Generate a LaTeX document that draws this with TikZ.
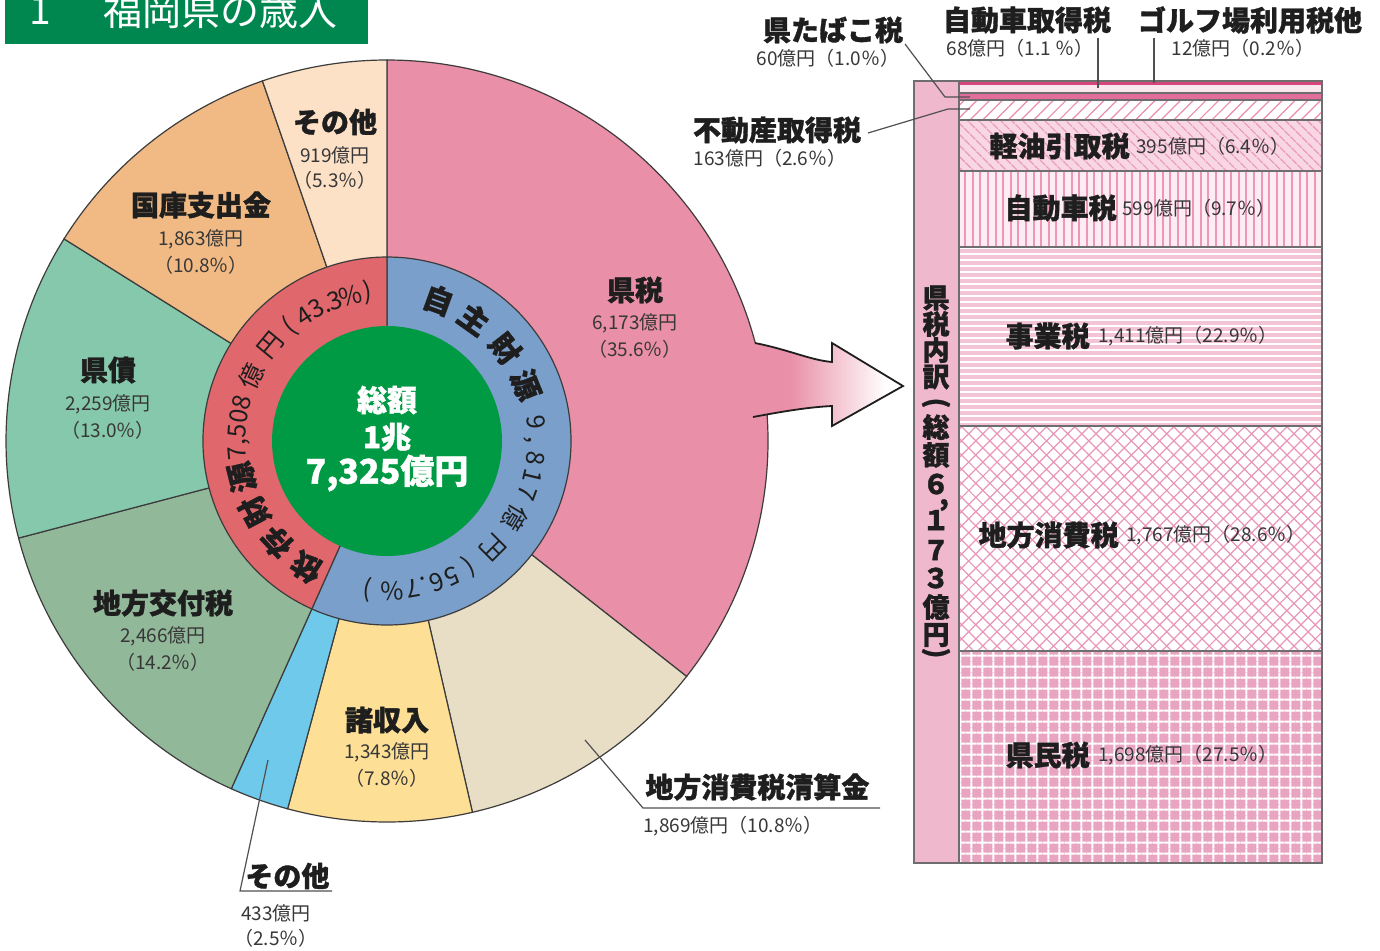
\documentclass[tikz,border=0pt]{standalone}
\usepackage{fontspec}
\setmainfont{Noto Sans CJK JP}[BoldFeatures={FakeBold=1.2}]
\usetikzlibrary{patterns.meta}
\definecolor{cKen}{RGB}{233,143,167}
\definecolor{cSeisan}{RGB}{231,222,197}
\definecolor{cShoshu}{RGB}{253,223,150}
\definecolor{cSonotaB}{RGB}{110,201,234}
\definecolor{cKofu}{RGB}{146,184,154}
\definecolor{cKensai}{RGB}{134,200,171}
\definecolor{cKokko}{RGB}{241,186,132}
\definecolor{cSonotaT}{RGB}{252,225,198}
\definecolor{cBlue}{RGB}{122,159,203}
\definecolor{cRed}{RGB}{224,103,108}
\definecolor{cGreen}{RGB}{0,154,68}
\definecolor{cTitle}{RGB}{0,135,80}
\definecolor{txt}{RGB}{30,30,30}
\definecolor{txt2}{RGB}{55,55,55}
\definecolor{edgegray}{RGB}{60,60,60}
\definecolor{sepgray}{RGB}{110,110,110}
\definecolor{leadgray}{RGB}{80,80,80}
\definecolor{cColumn}{RGB}{240,184,205}
\definecolor{cGolf}{RGB}{214,70,125}
\definecolor{cCarAcq}{RGB}{252,230,238}
\definecolor{cTabaco}{RGB}{228,110,155}
\definecolor{cHatch}{RGB}{235,140,176}
\definecolor{cKeiyuBg}{RGB}{248,214,227}
\definecolor{cKeiyuLn}{RGB}{232,150,182}
\definecolor{cJidoBg}{RGB}{253,236,242}
\definecolor{cJidoLn}{RGB}{236,150,185}
\definecolor{cJigyoBg}{RGB}{243,196,213}
\definecolor{cChihoLn}{RGB}{234,150,185}
\definecolor{cKenminBg}{RGB}{233,164,194}
\pgfdeclarehorizontalshading{arrowfade}{100bp}{color(0bp)=(cKen); color(40bp)=(cKen); color(70bp)=(white); color(100bp)=(white)}
\begin{document}
\begin{tikzpicture}[x=0.5pt,y=0.5pt,
  bt/.style={font=\bfseries\fontsize{14}{14}\selectfont, text=txt, inner sep=0pt},
  nt/.style={font=\fontsize{9.5}{9.5}\selectfont, text=txt2, inner sep=0pt},
  rb/.style={font=\bfseries\fontsize{15}{15}\selectfont, text=txt, inner sep=0pt},
  rs/.style={font=\fontsize{12.5}{12.5}\selectfont, text=txt, inner sep=0pt},
  ct/.style={font=\bfseries\fontsize{15}{15}\selectfont, text=white, inner sep=0pt},
  vt/.style={font=\bfseries\fontsize{13.5}{13.5}\selectfont, text=txt, inner sep=0pt},
  sepline/.style={draw=sepgray, line width=0.7pt},
  wedgeline/.style={draw=edgegray, line width=0.6pt},
  leader/.style={draw=leadgray, line width=0.6pt},
]
\clip (0,0) rectangle (1380,-950);
\fill[white] (0,0) rectangle (1380,-950);

% title
\fill[cTitle] (5,5) rectangle (368,-44);
\node[font=\fontsize{19.5}{19.5}\selectfont, text=white, inner sep=0pt, anchor=base] (t1) at (40,-24) {1};
\node[font=\fontsize{19.5}{19.5}\selectfont, text=white, inner sep=0pt, anchor=base west] (t2) at (103,-25) {福岡県の歳入};

% pie
\begin{scope}[shift={(387,-441)}]
  \foreach \a/\b/\c in {90/-38.16/cKen, -38.16/-77.04/cSeisan, -77.04/-105.12/cShoshu, -105.12/-114.12/cSonotaB, -114.12/-165.24/cKofu, -165.24/-212.04/cKensai, -212.04/-250.92/cKokko, -250.92/-270/cSonotaT}
    \filldraw[fill=\c, wedgeline] (0,0) -- (\a:381) arc[start angle=\a, end angle=\b, radius=381] -- cycle;
  \foreach \a/\b/\c in {90/-114.12/cBlue, -114.12/-270/cRed}
    \filldraw[fill=\c, wedgeline] (0,0) -- (\a:184) arc[start angle=\a, end angle=\b, radius=184] -- cycle;
  \fill[cGreen] (0,0) circle[radius=115];
  % ring texts
  \foreach \c/\a/\s/\r [count=\i] in {自/70/rb/150, 主/54.5/rb/150, 財/38/rb/150, 源/22/rb/150, 9/7/rs/150, {,}/0.5/rs/141, 8/-6.5/rs/150, 1/-13.5/rs/150, 7/-20.5/rs/150, 億/-31/rs/150, 円/-45/rs/150, {(}/-57/rs/150, 5/-64.5/rs/150, 6/-70.5/rs/150, {.}/-75.5/rs/142, 7/-80/rs/150, {\%}/-88/rs/150, {)}/-97.5/rs/150}
    \node[\s, rotate=\a-90, name=rb\i] at (\a:\r) {\c};
  \foreach \c/\a/\s/\r [count=\i] in {依/237.5/rb/150, 存/222.5/rb/150, 財/208/rb/150, 源/194/rb/150, 7/184.5/rs/150, {,}/180.5/rs/141, 5/176/rs/150, 0/170.5/rs/150, 8/165/rs/150, 億/154.5/rs/150, 円/140.5/rs/150, {(}/130.5/rs/150, 4/123.5/rs/150, 3/118/rs/150, {.}/114/rs/142, 3/110.5/rs/150, {\%}/104/rs/150, {)}/97.5/rs/150}
    \node[\s, rotate=\a-90, name=rr\i] at (\a:\r) {\c};
\end{scope}
\node[ct] (c1) at (387,-400) {総額};
\node[ct] (c2) at (387,-437) {1兆};
\node[ct, font=\bfseries\fontsize{17}{17}\selectfont] (c3) at (387,-473) {7,325億円};

% arrow
\shade[shading=arrowfade] (740,-341) -- (755,-343) .. controls (790,-350) and (810,-360) .. (832,-362) -- (832,-343) -- (903,-386) -- (832,-426) -- (832,-406) .. controls (810,-407) and (785,-411) .. (753,-417) -- (740,-418) -- cycle;
\draw[draw=txt, line width=0.9pt, line join=miter] (755,-343) .. controls (790,-350) and (810,-360) .. (832,-362) -- (832,-343) -- (903,-386) -- (832,-426) -- (832,-406) .. controls (810,-407) and (785,-411) .. (753,-417);

% pie labels
\node[bt] (l1) at (335,-122) {その他};
\node[nt] (l1a) at (335,-155) {919億円};
\node[nt] (l1b) at (335,-180) {（5.3％）};
\node[bt] (l2) at (201,-205) {国庫支出金};
\node[nt] (l2a) at (201,-239) {1,863億円};
\node[nt] (l2b) at (201,-265) {（10.8％）};
\node[bt] (l3) at (108,-370) {県債};
\node[nt] (l3a) at (108,-404) {2,259億円};
\node[nt] (l3b) at (108,-430) {（13.0％）};
\node[bt] (l4) at (163,-603) {地方交付税};
\node[nt] (l4a) at (163,-636) {2,466億円};
\node[nt] (l4b) at (163,-662) {（14.2％）};
\node[bt] (l5) at (635,-290) {県税};
\node[nt] (l5a) at (635,-323) {6,173億円};
\node[nt] (l5b) at (635,-349) {（35.6％）};
\node[bt] (l6) at (387,-720) {諸収入};
\node[nt] (l6a) at (387,-752) {1,343億円};
\node[nt] (l6b) at (387,-778) {（7.8％）};
\node[bt, anchor=west] (l7) at (645,-787) {地方消費税清算金};
\node[nt, anchor=west] (l7a) at (643,-826) {1,869億円（10.8％）};
\node[bt, anchor=west] (l8) at (245,-876) {その他};
\node[nt] (l8a) at (276,-913) {433億円};
\node[nt] (l8b) at (276,-938) {（2.5％）};
\coordinate (s7a) at (585,-740);
\coordinate (s7b) at (643,-808);
\coordinate (s7c) at (880,-808);
\draw[leader] (s7a) -- (s7b) -- (s7c);
\coordinate (s8a) at (268,-760);
\coordinate (s8b) at (240,-891);
\coordinate (s8c) at (332,-891);
\draw[leader] (s8a) -- (s8b) -- (s8c);

% tax breakdown bar
\path[fill=cColumn] (914,-81) rectangle (959,-863);
\path[fill=cGolf] (959,-81) rectangle (1322,-85);
\path[fill=cCarAcq] (959,-85) rectangle (1322,-93);
\path[fill=cTabaco] (959,-93) rectangle (1322,-100);
\path[fill=white, postaction={pattern={Lines[angle=45,distance=4.5pt,line width=0.6pt]}, pattern color=cHatch}] (959,-100) rectangle (1322,-120);
\path[fill=cKeiyuBg, postaction={pattern={Lines[angle=-45,distance=4pt,line width=0.7pt]}, pattern color=cKeiyuLn}] (959,-120) rectangle (1322,-171);
\path[fill=cJidoBg, postaction={pattern={Lines[angle=90,distance=3.8pt,line width=1pt]}, pattern color=cJidoLn}] (959,-171) rectangle (1322,-247);
\path[fill=cJigyoBg, postaction={pattern={Lines[angle=0,distance=3pt,line width=0.6pt]}, pattern color=white}] (959,-247) rectangle (1322,-426);
\path[fill=white, postaction={pattern={Hatch[angle=45,distance=5pt,line width=0.6pt]}, pattern color=cChihoLn}] (959,-426) rectangle (1322,-651);
\path[fill=cKenminBg, postaction={pattern={Hatch[angle=0,distance=5.4pt,line width=1pt]}, pattern color=white}] (959,-651) rectangle (1322,-863);
\foreach \yy in {93,100,120,171,247,426,651}
  \draw[sepline] (959,-\yy) -- (1322,-\yy);
\draw[sepline] (959,-81) -- (959,-863);
\draw[sepline] (914,-81) rectangle (1322,-863);

% vertical label
\foreach \c/\yy [count=\i] in {県/298, 税/324, 内/350, 訳/377, 総/427, 額/455, ６/484, １/520, ７/550, ３/578, 億/607, 円/635}
  \node[vt, name=v\i] at (936,-\yy) {\c};
\node[vt, rotate=-90] (vp1) at (936,-403) {(};
\node[vt] (vcm) at (944,-505) {,};
\node[vt, rotate=-90] (vp2) at (936,-653) {)};

% labels inside bar
\node[bt, anchor=east] (k1) at (1130,-146) {軽油引取税};
\node[nt, anchor=west] (k1a) at (1136,-146) {395億円（6.4％）};
\node[bt, anchor=east] (k2) at (1117,-208) {自動車税};
\node[nt, anchor=west] (k2a) at (1122,-208) {599億円（9.7％）};
\node[bt, anchor=east] (k3) at (1090,-336) {事業税};
\node[nt, anchor=west] (k3a) at (1098,-336) {1,411億円（22.9％）};
\node[bt, anchor=east] (k4) at (1119,-535) {地方消費税};
\node[nt, anchor=west] (k4a) at (1126,-535) {1,767億円（28.6％）};
\node[bt, anchor=east] (k5) at (1090,-755) {県民税};
\node[nt, anchor=west] (k5a) at (1098,-755) {1,698億円（27.5％）};

% labels above bar
\node[bt] (u1) at (833,-30) {県たばこ税};
\node[nt] (u1a) at (828,-58) {60億円（1.0％）};
\node[bt] (u2) at (1027,-20) {自動車取得税};
\node[nt] (u2a) at (1020,-48) {68億円（1.1 ％）};
\node[bt] (u3) at (1250,-20) {ゴルフ場利用税他};
\node[nt] (u3a) at (1243,-48) {12億円（0.2％）};
\node[bt] (u4) at (777,-130) {不動産取得税};
\node[nt] (u4a) at (770,-158) {163億円（2.6％）};
\coordinate (q1a) at (905,-44);
\coordinate (q1b) at (945,-97);
\coordinate (q1c) at (970,-97);
\draw[leader] (q1a) -- (q1b) -- (q1c);
\coordinate (q4a) at (868,-133);
\coordinate (q4b) at (948,-109);
\coordinate (q4c) at (970,-109);
\draw[leader] (q4a) -- (q4b) -- (q4c);
\coordinate (q2a) at (1098,-38);
\coordinate (q2b) at (1098,-88);
\draw[leader] (q2a) -- (q2b);
\coordinate (q3a) at (1154,-38);
\coordinate (q3b) at (1154,-83);
\draw[leader] (q3a) -- (q3b);
\end{tikzpicture}
\end{document}
